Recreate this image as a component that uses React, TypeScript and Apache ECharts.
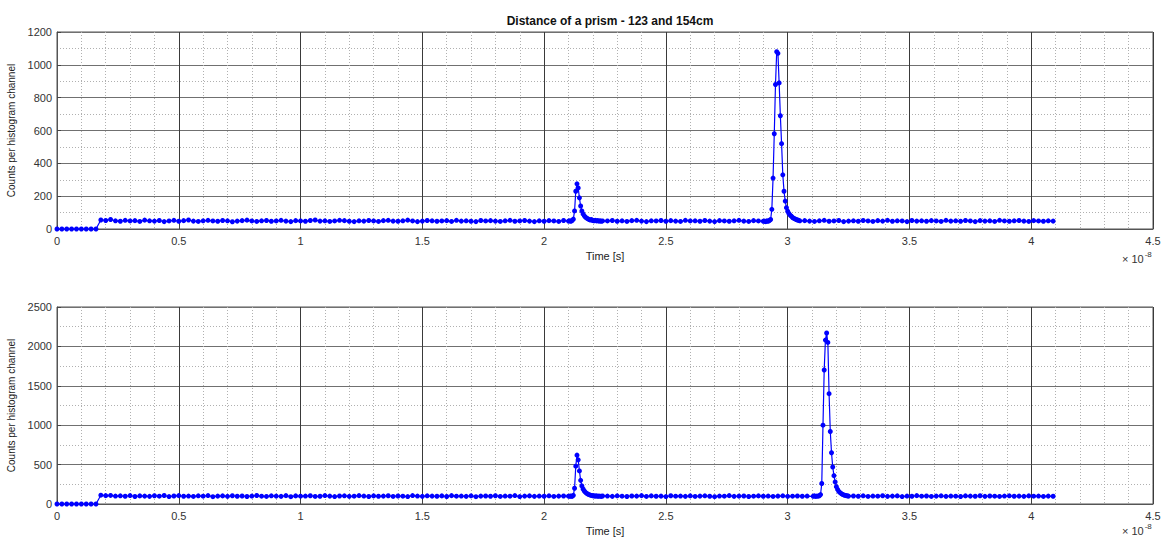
import React, { useEffect, useRef } from "react";
import * as echarts from "echarts";

// Time axis in units of 10^-8 s
const CH = 0.02; // baseline channel spacing (x 10^-8 s)
const PK = 0.005; // fine spacing around peaks

// ---- Top plot (123 cm) ----
const topZeros = [0, 0, 0, 0, 0, 0, 0, 0, 0]; // 0 .. 0.16
const topBase1 = [
  55, 52, 58, 50, 47, 53, 49, 51, 46, 54, 50, 48, 52, 45, 49, 53, 47, 51, 55, 48,
  46, 50, 53, 49, 47, 52, 50, 44, 48, 51, 54, 49, 46, 50, 52, 47, 49, 53, 48, 45,
  51, 49, 47, 52, 55, 48, 50, 46, 49, 53, 51, 47, 45, 50, 48, 52, 49, 46, 51, 53,
  48, 47, 50, 54, 49, 45, 48, 52, 50, 47, 49, 51, 46, 53, 48, 50, 47, 45, 52, 49,
  51, 48, 46, 50, 53, 47, 49, 52, 48, 45, 50, 47, 51, 49, 46, 52, 48,
]; // 0.18 .. 2.10
const topPeak1 = [
  50, 47, 52, 60, 110, 230, 275, 250, 190, 140, 110, 92, 80, 72, 66, 62, 58, 55,
  57, 52, 50, 53, 49, 51, 48, 50, 47, 49,
]; // 2.105 .. 2.24
const topBase2 = [
  49, 52, 47, 50, 46, 51, 53, 48, 45, 50, 49, 52, 47, 51, 48, 46, 53, 49, 50, 47,
  52, 48, 45, 51, 49, 47, 50, 53, 48, 46, 51, 49, 47,
]; // 2.26 .. 2.90
const topPeak2 = [
  48, 45, 50, 47, 52, 58, 120, 310, 580, 880, 1080, 1070, 890, 690, 520, 330, 230,
  170, 130, 108, 95, 85, 78, 70, 65, 62, 58, 55, 53, 50,
]; // 2.905 .. 3.05
const topBase3 = [
  51, 48, 46, 50, 53, 47, 49, 52, 45, 48, 50, 47, 52, 49, 46, 51, 48, 53, 47, 50,
  49, 45, 52, 48, 50, 47, 51, 49, 46, 53, 48, 50, 47, 52, 49, 45, 51, 48, 50, 46,
  53, 49, 47, 50, 52, 48, 46, 51, 49, 47, 50, 48,
]; // 3.07 .. 4.09

// ---- Bottom plot (154 cm) ----
const botZeros = [0, 0, 0, 0, 0, 0, 0, 0, 0];
const botBase1 = [
  112, 106, 109, 101, 104, 98, 107, 95, 103, 100, 97, 105, 99, 108, 94, 102, 106, 98, 101, 96,
  104, 99, 107, 93, 100, 103, 97, 105, 98, 102, 95, 101, 108, 99, 96, 104, 100, 97, 106, 93,
  103, 99, 101, 105, 96, 98, 107, 100, 94, 102, 104, 97, 99, 106, 101, 95, 103, 98, 100, 105,
  96, 102, 99, 94, 107, 101, 97, 104, 100, 98, 103, 95, 106, 99, 101, 97, 104, 93, 100, 102,
  98, 105, 96, 101, 99, 107, 94, 100, 103, 97, 101, 98, 104, 96, 100, 102, 99,
]; // 0.18 .. 2.10
const botPeak1 = [
  98, 102, 97, 110, 200, 480, 620, 560, 420, 300, 230, 190, 165, 148, 135, 125, 118,
  112, 109, 105, 103, 100, 104, 98, 101, 99, 97, 102,
]; // 2.105 .. 2.24
const botBase2 = [
  101, 97, 104, 99, 95, 102, 100, 106, 96, 103, 98, 100, 94, 105, 99, 101, 97, 103, 96, 100,
  104, 98, 93, 101, 99, 106, 97, 100, 102, 95, 99, 103, 98, 101, 96, 100, 104, 97, 99, 102,
  98, 101,
]; // 2.26 .. 3.08
const botPeak2 = [
  98, 104, 96, 101, 99, 105, 120, 260, 1000, 1700, 2080, 2170, 2050, 1400, 920, 650, 470,
  360, 280, 220, 185, 160, 145, 132, 122, 115, 110, 106, 103, 100,
]; // 3.105 .. 3.25
const botBase3 = [
  102, 98, 104, 96, 101, 99, 105, 97, 100, 103, 94, 101, 98, 106, 99, 102, 96, 100, 104, 97,
  101, 99, 95, 103, 100, 98, 105, 97, 102, 99, 96, 101, 104, 98, 100, 97, 103, 99, 101, 96,
  100, 98,
]; // 3.27 .. 4.09

function seg(start: number, step: number, vals: number[]): [number, number][] {
  return vals.map((v, i) => [+(start + i * step).toFixed(4), v]);
}

const topData = [
  ...seg(0, CH, topZeros),
  ...seg(0.18, CH, topBase1),
  ...seg(2.105, PK, topPeak1),
  ...seg(2.26, CH, topBase2),
  ...seg(2.905, PK, topPeak2),
  ...seg(3.07, CH, topBase3),
];
const botData = [
  ...seg(0, CH, botZeros),
  ...seg(0.18, CH, botBase1),
  ...seg(2.105, PK, botPeak1),
  ...seg(2.26, CH, botBase2),
  ...seg(3.105, PK, botPeak2),
  ...seg(3.27, CH, botBase3),
];

const FONT = "Liberation Sans, Arial, Helvetica, sans-serif";
const MAJOR = "#3a3a3a";
const MINOR = "#b0b0b0";

function xAxisFor(gridIndex: number) {
  return {
    type: "value",
    gridIndex,
    min: 0,
    max: 4.5,
    interval: 0.5,
    name: "Time [s]",
    nameLocation: "middle",
    nameGap: 21,
    nameTextStyle: { fontFamily: FONT, fontSize: 11, color: "#222" },
    axisLine: { show: true, lineStyle: { color: "#555", width: 1 } },
    axisTick: { show: true, inside: true, length: 4, lineStyle: { color: "#444" } },
    axisLabel: {
      fontFamily: FONT, fontSize: 11, color: "#333", margin: 6, showMaxLabel: true, showMinLabel: true,
      formatter: (v: number) => String(v),
    },
    splitLine: { show: true, lineStyle: { color: MAJOR, width: 1 } },
    minorTick: { show: false, splitNumber: 5 },
    minorSplitLine: { show: true, lineStyle: { color: MINOR, type: [1, 2], width: 1 } },
  };
}

function yAxisFor(gridIndex: number, max: number, interval: number) {
  return {
    type: "value",
    gridIndex,
    min: 0,
    max,
    interval,
    name: "Counts per histogram channel",
    nameLocation: "middle",
    nameGap: 39,
    nameTextStyle: { fontFamily: FONT, fontSize: 10, color: "#222" },
    axisLine: { show: true, lineStyle: { color: "#555", width: 1 } },
    axisTick: { show: true, inside: true, length: 4, lineStyle: { color: "#444" } },
    axisLabel: { fontFamily: FONT, fontSize: 11, color: "#333", margin: 5, formatter: (v: number) => String(v) },
    splitLine: { show: true, lineStyle: { color: "#707070", width: 1 } },
    minorTick: { show: false, splitNumber: 2 },
    minorSplitLine: { show: true, lineStyle: { color: MINOR, type: [1, 2], width: 1 } },
  };
}

function seriesFor(idx: number, data: [number, number][]) {
  return {
    type: "line",
    xAxisIndex: idx,
    yAxisIndex: idx,
    data,
    showSymbol: true,
    showAllSymbol: true,
    symbol: "circle",
    symbolSize: 5,
    itemStyle: { color: "#0000ff" },
    lineStyle: { color: "#0000ff", width: 1.2 },
    silent: true,
  };
}

const expRich = {
  a: { fontFamily: FONT, fontSize: 11, fill: "#333", padding: [5, 0, 0, 0] },
  b: { fontFamily: FONT, fontSize: 8, fill: "#333", padding: [0, 0, 5, 1] },
};

export default function App() {
  const ref = useRef<HTMLDivElement>(null);
  useEffect(() => {
    if (!ref.current) return;
    const chart = echarts.init(ref.current, null, { renderer: "svg" });
    chart.setOption({
      animation: false,
      backgroundColor: "#ffffff",
      title: {
        text: "Distance of a prism - 123 and 154cm",
        left: 605,
        textAlign: "center",
        top: 10,
        textStyle: { fontFamily: FONT, fontSize: 12, fontWeight: "bold", color: "#111" },
      },
      grid: [
        { left: 57, top: 32, width: 1096, height: 197, show: true, borderColor: "#555", borderWidth: 1, backgroundColor: "#fff", outerBoundsMode: "none", containLabel: false },
        { left: 57, top: 307, width: 1096, height: 197, show: true, borderColor: "#555", borderWidth: 1, backgroundColor: "#fff", outerBoundsMode: "none", containLabel: false },
      ],
      xAxis: [xAxisFor(0), xAxisFor(1)],
      yAxis: [yAxisFor(0, 1200, 200), yAxisFor(1, 2500, 500)],
      series: [seriesFor(0, topData), seriesFor(1, botData)],
      graphic: [
        { type: "text", left: 1122, top: 250, style: { text: "{a|× 10}{b|-8}", rich: expRich } },
        { type: "text", left: 1122, top: 522, style: { text: "{a|× 10}{b|-8}", rich: expRich } },
      ],
    } as any);
    return () => chart.dispose();
  }, []);
  return (
    <div
      ref={ref}
      style={{ position: "fixed", left: 0, top: 0, width: 1164, height: 538, background: "#fff" }}
    />
  );
}
